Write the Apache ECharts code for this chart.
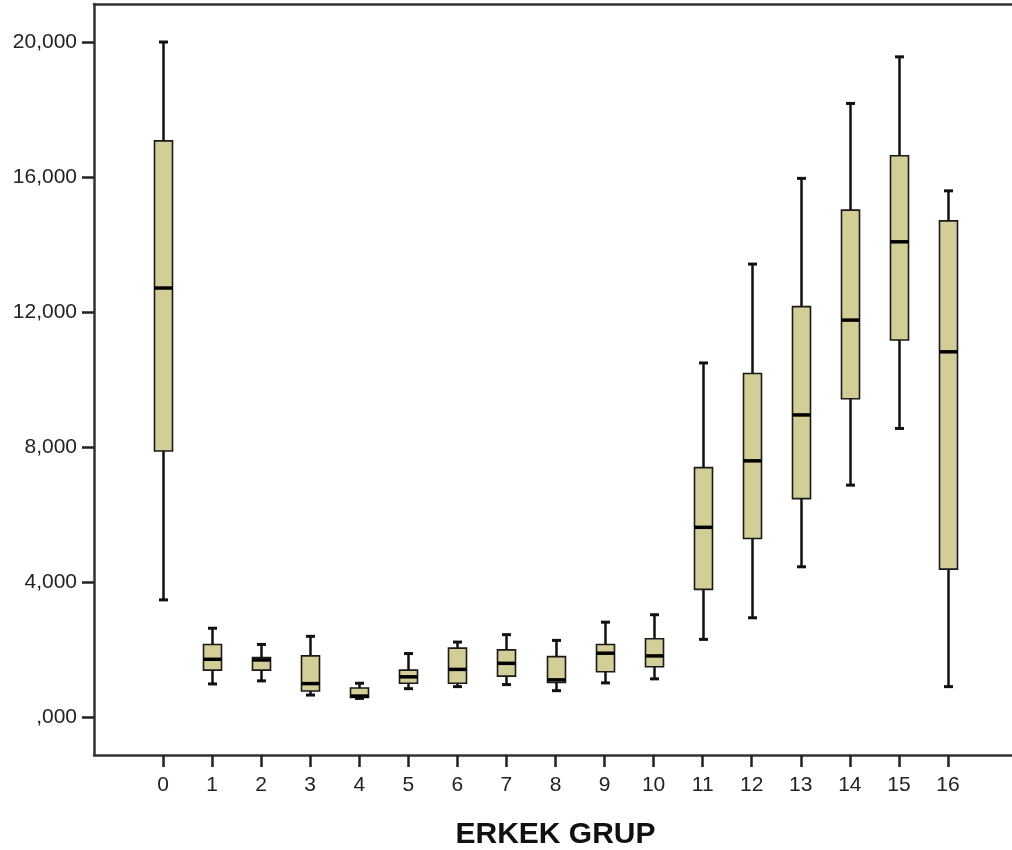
<!DOCTYPE html>
<html>
<head>
<meta charset="utf-8">
<script src="https://cdn.jsdelivr.net/npm/echarts@6/dist/echarts.min.js"></script>
<style>
html,body{margin:0;padding:0;background:#fff;}
#chart{width:1012px;height:850px;}
</style>
</head>
<body>
<div id="chart"></div>
<script>
const categories = ['0','1','2','3','4','5','6','7','8','9','10','11','12','13','14','15','16'];
const whiskerLow  = [3470, 980, 1070, 650, 550, 840, 900, 960, 780, 1010, 1130, 2300, 2940, 4450, 6870, 8550, 900];
const quartile1   = [7880, 1390, 1390, 770, 580, 1000, 1000, 1210, 1020, 1340, 1490, 3780, 5290, 6470, 9430, 11170, 4380];
const medians     = [12710, 1710, 1690, 990, 620, 1190, 1410, 1590, 1100, 1890, 1810, 5620, 7590, 8950, 11760, 14080, 10820];
const quartile3   = [17070, 2150, 1760, 1810, 860, 1390, 2040, 1990, 1790, 2150, 2320, 7390, 10180, 12160, 15020, 16630, 14700];
const whiskerHigh = [20000, 2630, 2150, 2390, 1000, 1880, 2220, 2440, 2270, 2810, 3030, 10490, 13420, 15960, 18180, 19560, 15590];
const yTicks = [0, 4000, 8000, 12000, 16000, 20000];
const yTickLabels = [',000', '4,000', '8,000', '12,000', '16,000', '20,000'];
const yMin = -1126, yMax = 21126;
const xTitle = 'ERKEK GRUP';

const data = categories.map((c, i) => [i, whiskerLow[i], quartile1[i], medians[i], quartile3[i], whiskerHigh[i]]);

const FONT = "'Liberation Sans', Arial, sans-serif";
const BOX_FILL = '#d3ce97';
const INK = '#111';
const FRAME = {show: true, onZero: false, lineStyle: {color: '#333', width: 2.5}};

const chart = echarts.init(document.getElementById('chart'), null, {renderer: 'canvas'});
chart.setOption({
  animation: false,
  backgroundColor: '#fff',
  grid: [
    {left: 138.5, right: 39.5, top: 4, bottom: 95, show: false, containLabel: false, outerBoundsMode: 'none'},
    {left: 94, right: -30, top: 4, bottom: 95, show: false, containLabel: false, outerBoundsMode: 'none'}
  ],
  xAxis: [
    {
      type: 'category', gridIndex: 0, data: categories, boundaryGap: true,
      position: 'bottom',
      axisLine: {show: false, onZero: false},
      axisTick: {show: true, alignWithLabel: true, length: 12, lineStyle: {color: '#222', width: 2.5}},
      axisLabel: {color: '#222', fontFamily: FONT, fontSize: 21, margin: 20},
      name: xTitle, nameLocation: 'middle', nameGap: 65,
      nameTextStyle: {color: '#111', fontFamily: FONT, fontSize: 30, fontWeight: 'bold'},
      splitLine: {show: false}
    },
    {type: 'value', gridIndex: 1, position: 'bottom', min: 0, max: 1,
      axisLine: FRAME, axisTick: {show: false}, axisLabel: {show: false}, splitLine: {show: false}},
    {type: 'value', gridIndex: 1, position: 'top', min: 0, max: 1,
      axisLine: FRAME, axisTick: {show: false}, axisLabel: {show: false}, splitLine: {show: false}}
  ],
  yAxis: [
    {type: 'value', gridIndex: 0, min: yMin, max: yMax, show: false},
    {
      type: 'value', gridIndex: 1, min: yMin, max: yMax,
      position: 'left',
      axisLine: FRAME,
      axisTick: {show: true, length: 12, customValues: yTicks, lineStyle: {color: '#222', width: 2.5}},
      axisLabel: {
        customValues: yTicks,
        color: '#222', fontFamily: FONT, fontSize: 21, margin: 17,
        formatter: v => { const k = yTicks.indexOf(v); return k >= 0 ? yTickLabels[k] : ''; }
      },
      splitLine: {show: false}
    }
  ],
  series: [{
    type: 'custom',
    xAxisIndex: 0, yAxisIndex: 0,
    data: data,
    encode: {x: 0, y: [1, 2, 3, 4, 5]},
    renderItem: function (params, api) {
      const i = api.value(0);
      const lo = api.coord([i, api.value(1)]);
      const q1 = api.coord([i, api.value(2)]);
      const md = api.coord([i, api.value(3)]);
      const q3 = api.coord([i, api.value(4)]);
      const hi = api.coord([i, api.value(5)]);
      const cx = Math.round(lo[0]) + 0.5;
      const bw = 18, cap = 9;
      const wStyle = {stroke: INK, lineWidth: 2.5};
      return {
        type: 'group',
        children: [
          {type: 'line', shape: {x1: cx, y1: hi[1], x2: cx, y2: q3[1]}, style: wStyle},
          {type: 'line', shape: {x1: cx, y1: q1[1], x2: cx, y2: lo[1]}, style: wStyle},
          {type: 'line', shape: {x1: cx - cap / 2, y1: hi[1], x2: cx + cap / 2, y2: hi[1]}, style: {stroke: INK, lineWidth: 3}},
          {type: 'line', shape: {x1: cx - cap / 2, y1: lo[1], x2: cx + cap / 2, y2: lo[1]}, style: {stroke: INK, lineWidth: 3}},
          {type: 'rect', shape: {x: cx - bw / 2, y: q3[1], width: bw, height: q1[1] - q3[1]},
            style: {fill: BOX_FILL, stroke: '#1a1a1a', lineWidth: 1.6}},
          {type: 'line', shape: {x1: cx - bw / 2, y1: md[1], x2: cx + bw / 2, y2: md[1]}, style: {stroke: '#000', lineWidth: 3.5}}
        ]
      };
    }
  }]
});
</script>
</body>
</html>
